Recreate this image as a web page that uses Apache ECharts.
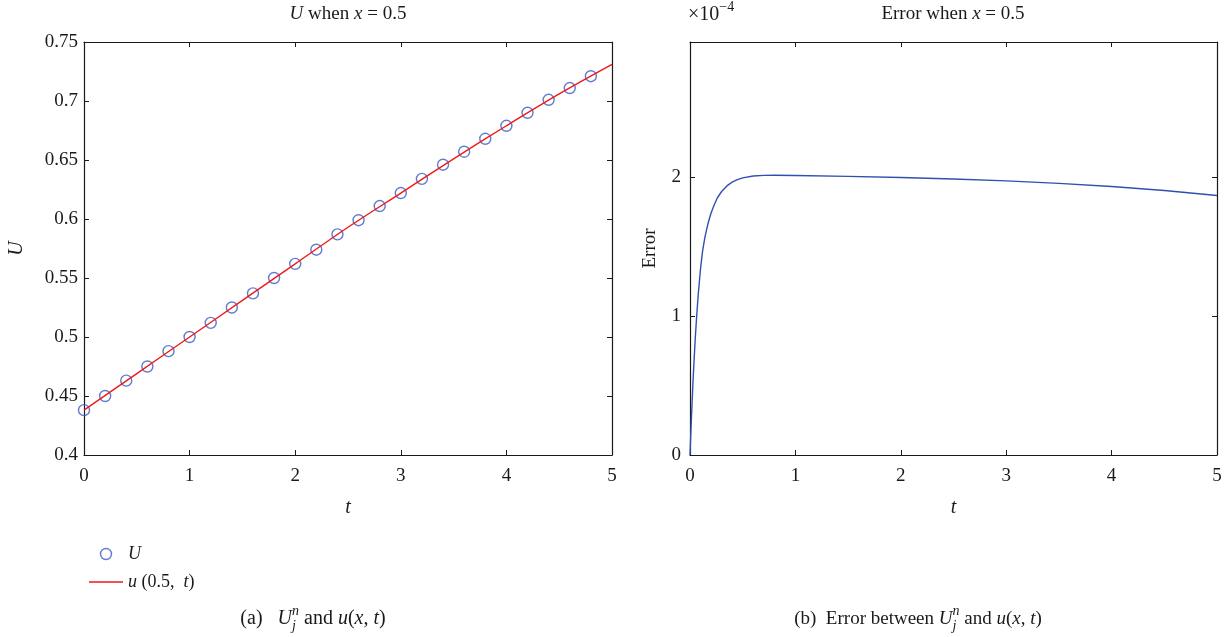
<!DOCTYPE html>
<html>
<head>
<meta charset="utf-8">
<script src="https://cdn.jsdelivr.net/npm/echarts@6/dist/echarts.min.js"></script>
<style>
html,body{margin:0;padding:0;background:#fff;}
#c{width:1226px;height:637px;}
</style>
</head>
<body>
<div id="c"></div>
<script>
// ---- data ----
const tU = [0,0.2,0.4,0.6,0.8,1.0,1.2,1.4,1.6,1.8,2.0,2.2,2.4,2.6,2.8,3.0,3.2,3.4,3.6,3.8,4.0,4.2,4.4,4.6,4.8];
const Unum = [0.438,0.450,0.463,0.475,0.488,0.500,0.512,0.525,0.537,0.550,0.562,0.574,0.587,0.599,0.611,0.622,0.634,0.646,0.657,0.668,0.679,0.690,0.701,0.711,0.721];
const tExact = [0,0.5,1.0,1.5,2.0,2.5,3.0,3.5,4.0,4.5,5.0];
const uExact = [0.438,0.469,0.500,0.531,0.562,0.593,0.622,0.651,0.679,0.706,0.731];
const tErr = [0,0.01,0.02,0.03,0.04,0.05,0.06,0.07,0.08,0.1,0.12,0.14,0.16,0.18,0.2,0.23,0.26,0.3,0.35,0.4,0.45,0.5,0.6,0.7,0.8,1.0,1.5,2.0,2.5,3.0,3.5,4.0,4.5,5.0];
const errVal = [0,0.20,0.38,0.55,0.70,0.84,0.96,1.07,1.17,1.34,1.47,1.56,1.63,1.69,1.74,1.80,1.85,1.895,1.935,1.962,1.980,1.993,2.006,2.011,2.012,2.010,2.004,1.996,1.985,1.971,1.953,1.931,1.902,1.866];
const errScaleLabel = ['×10', '−4'];

const FF = '"Liberation Serif", "DejaVu Serif", serif';
const INK = '#1a1a1a';
const FS = 19;

const chart = echarts.init(document.getElementById('c'));

const mctx = document.createElement('canvas').getContext('2d');
function tw(t, fs, it){ mctx.font = (it?'italic ':'') + fs + 'px ' + FF; return mctx.measureText(t).width; }
function compose(segs, x, y, anchor, base){
  const b = base || FS;
  const widths = segs.map(s => tw(s.t, s.fs||b, s.it));
  const adv = segs.map((s,k)=> s.stack ? 0 : widths[k]);
  for (let k=0;k<segs.length;k++){
    if (segs[k].stack && k+1<segs.length) adv[k+1] = Math.max(widths[k], widths[k+1]);
  }
  const total = adv.reduce((a,b)=>a+b,0);
  let cx = anchor==='center' ? x - total/2 : x;
  const els = [];
  segs.forEach((s,k)=>{
    els.push({type:'text', x: cx, y: y + (s.dy||0), silent:true,
      style:{text:s.t, fontSize:s.fs||b, fontFamily:FF, fontStyle:s.it?'italic':'normal',
             fill:INK, verticalAlign:'middle', align:'left'}});
    cx += adv[k];
  });
  return els;
}

const graphics = [].concat(
  compose([{t:'U',it:true},{t:' when '},{t:'x',it:true},{t:' = 0.5'}], 348, 14, 'center'),
  compose([{t:'Error when '},{t:'x',it:true},{t:' = 0.5'}], 953, 14, 'center'),
  compose([{t:errScaleLabel[0]},{t:errScaleLabel[1],fs:14,dy:-8}], 688, 15, 'left', 20),
  compose([{t:'(a)   '},{t:'U',it:true},{t:'n',it:true,fs:14,dy:-8,stack:true},{t:'j',it:true,fs:14,dy:7},{t:' and '},{t:'u',it:true},{t:'('},{t:'x',it:true},{t:', '},{t:'t',it:true},{t:')'}], 313, 619, 'center', 20),
  compose([{t:'(b)  Error between '},{t:'U',it:true},{t:'n',it:true,fs:14,dy:-8,stack:true},{t:'j',it:true,fs:14,dy:7},{t:' and '},{t:'u',it:true},{t:'('},{t:'x',it:true},{t:', '},{t:'t',it:true},{t:')'}], 918, 619, 'center')
);

const axLine = {show:true, lineStyle:{color:INK, width:1.2}};
const tickIn = {show:true, inside:true, length:5, lineStyle:{color:INK, width:1}};
const lab = {color:INK, fontFamily:FF, fontSize:FS};
const nameTS = {color:INK, fontFamily:FF, fontSize:20, fontStyle:'italic'};

function xMain(gi){
  return {type:'value', gridIndex:gi, min:0, max:5, interval:1, position:'bottom',
    axisLine:Object.assign({onZero:false}, axLine), axisTick:tickIn, splitLine:{show:false},
    axisLabel:Object.assign({margin:12}, lab),
    name:'t', nameLocation:'middle', nameGap:43, nameTextStyle:nameTS};
}
function xTop(gi){
  return {type:'value', gridIndex:gi, min:0, max:5, interval:1, position:'top',
    axisLine:Object.assign({onZero:false}, axLine), axisTick:tickIn, splitLine:{show:false}, axisLabel:{show:false}};
}

const option = {
  animation:false,
  backgroundColor:'#fff',
  grid:[
    {left:84, right:614, top:42, bottom:182},
    {left:690, right:9, top:42, bottom:182}
  ],
  xAxis:[xMain(0), xMain(1), xTop(0), xTop(1)],
  yAxis:[
    {type:'value', gridIndex:0, min:0.4, max:0.75, interval:0.05, position:'left',
      axisLine:Object.assign({onZero:false}, axLine), axisTick:tickIn, splitLine:{show:false},
      axisLabel:Object.assign({margin:6}, lab),
      name:'U', nameLocation:'middle', nameGap:57, nameTextStyle:nameTS},
    {type:'value', gridIndex:1, min:0, max:2.97, interval:1, position:'left',
      axisLine:Object.assign({onZero:false}, axLine), axisTick:tickIn, splitLine:{show:false},
      axisLabel:Object.assign({margin:9, showMaxLabel:false, formatter:v=> (Math.abs(v-Math.round(v))<1e-9? String(Math.round(v)) : '')}, lab),
      name:'Error', nameLocation:'middle', nameGap:30, nameTextStyle:Object.assign({}, nameTS, {fontStyle:'normal', fontSize:19})},
    {type:'value', gridIndex:0, min:0.4, max:0.75, interval:0.05, position:'right',
      axisLine:Object.assign({onZero:false}, axLine), axisTick:tickIn, splitLine:{show:false}, axisLabel:{show:false}},
    {type:'value', gridIndex:1, min:0, max:2.97, interval:1, position:'right',
      axisLine:Object.assign({onZero:false}, axLine), axisTick:tickIn, splitLine:{show:false}, axisLabel:{show:false}}
  ],
  legend:{
    orient:'vertical', left:84, top:540, itemWidth:34, itemHeight:11, itemGap:10,
    data:[
      {name:'U', icon:'circle', itemStyle:{color:'rgba(255,255,255,0)', borderColor:'#3a5bc0', borderWidth:1.4}},
      {name:'u(0.5, t)', icon:'path://M0,0 L34,0 L34,1.4 L0,1.4 Z', itemStyle:{color:'#f01818'}}
    ],
    textStyle:{color:INK, fontFamily:FF, fontSize:18, rich:{i:{fontStyle:'italic', fontFamily:FF, fontSize:18, color:INK}}},
    formatter: n => n==='U' ? '{i|U}' : '{i|u} (0.5,  {i|t})'
  },
  series:[
    {name:'u(0.5, t)', type:'line', xAxisIndex:0, yAxisIndex:0, symbol:'none',
      data:tExact.map((t,i)=>[t,uExact[i]]), smooth:0.3,
      lineStyle:{color:'#f01818', width:1.4}, itemStyle:{color:'#f01818'}, z:3},
    {name:'U', type:'scatter', xAxisIndex:0, yAxisIndex:0, symbol:'circle', symbolSize:11,
      data:tU.map((t,i)=>[t,Unum[i]]),
      itemStyle:{color:'rgba(255,255,255,0)', borderColor:'#3a5bc0', borderWidth:1.4}, z:2},
    {name:'err', type:'line', xAxisIndex:1, yAxisIndex:1, symbol:'none',
      data:tErr.map((t,i)=>[t,errVal[i]]), smooth:false,
      lineStyle:{color:'#3050b0', width:1.4}}
  ],
  graphic: graphics
};
chart.setOption(option);
</script>
</body>
</html>
